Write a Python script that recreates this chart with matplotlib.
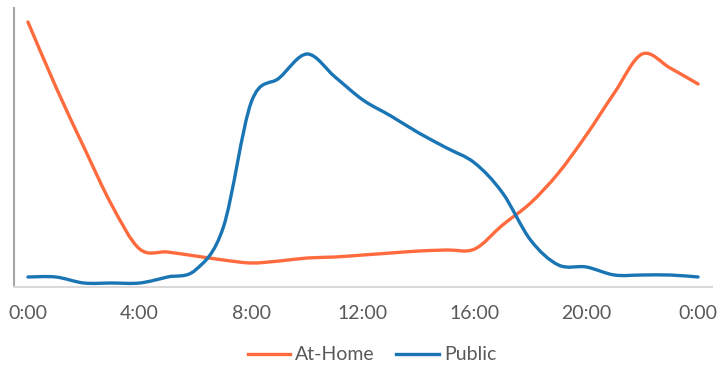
import numpy as np
import matplotlib
matplotlib.use("Agg")
import matplotlib.pyplot as plt
from matplotlib.path import Path
from matplotlib.patches import PathPatch
from matplotlib.lines import Line2D

# Hourly profile, 0:00 through the next 0:00
hours = list(range(25))
at_home = [268, 203, 143, 85, 41, 38, 34, 30, 27, 29, 32, 33, 35, 37, 39, 40,
           41, 65, 87, 117, 155, 197, 236, 222, 206]
public = [13, 13, 7, 7, 7, 13, 20, 63, 188, 212, 236, 213, 190, 174, 157, 142,
          127, 97, 50, 25, 23, 15, 15, 15, 13]
tick_hours = [0, 4, 8, 12, 16, 20, 24]
tick_labels = ["0:00", "4:00", "8:00", "12:00", "16:00", "20:00", "0:00"]
series_names = ["At-Home", "Public"]
colors = ["#FF6B3D", "#1A75B5"]


def smooth_path(x, y):
    """Cubic Bezier path through the points (Catmull-Rom style tangents)."""
    pts = np.column_stack([x, y]).astype(float)
    n = len(pts)
    verts = [pts[0]]
    codes = [Path.MOVETO]
    for i in range(n - 1):
        p0 = pts[i - 1] if i > 0 else pts[i]
        p1 = pts[i]
        p2 = pts[i + 1]
        p3 = pts[i + 2] if i + 2 < n else pts[i + 1]
        c1 = p1 + (p2 - p0) / 6.0
        c2 = p2 - (p3 - p1) / 6.0
        verts += [c1, c2, p2]
        codes += [Path.CURVE4] * 3
    return Path(verts, codes)


plt.rcParams["font.family"] = ["Lato", "DejaVu Sans"]

fig = plt.figure(figsize=(7.19, 3.67), dpi=100)
ax = fig.add_axes([14 / 719, 1 - 287 / 367, (712 - 14) / 719, (287 - 8) / 367])

for vals, col in zip([at_home, public], colors):
    patch = PathPatch(smooth_path(hours, vals), facecolor="none", edgecolor=col,
                      lw=2.4, capstyle="round", joinstyle="round")
    ax.add_patch(patch)

ax.set_xlim(-0.5, 24.5)
ax.set_ylim(3, 282)
ax.set_xticks(tick_hours)
ax.set_xticklabels(tick_labels, fontsize=14, color="#595959")
ax.tick_params(axis="x", length=0, pad=13)
ax.set_yticks([])

for s in ["top", "right"]:
    ax.spines[s].set_visible(False)
ax.spines["bottom"].set_color("#D9D9D9")
ax.spines["bottom"].set_linewidth(1.5)
ax.spines["left"].set_color("#A6A6A6")
ax.spines["left"].set_linewidth(1.5)

handles = [Line2D([], [], color=c, lw=2.4) for c in colors]
fig.legend(handles, series_names, loc="center", bbox_to_anchor=(372 / 719, 1 - 355 / 367),
           ncol=2, frameon=False, fontsize=14, handlelength=2.2, handletextpad=0.25,
           columnspacing=1.1, labelcolor="#595959")

fig.savefig("out.png", dpi=100)
